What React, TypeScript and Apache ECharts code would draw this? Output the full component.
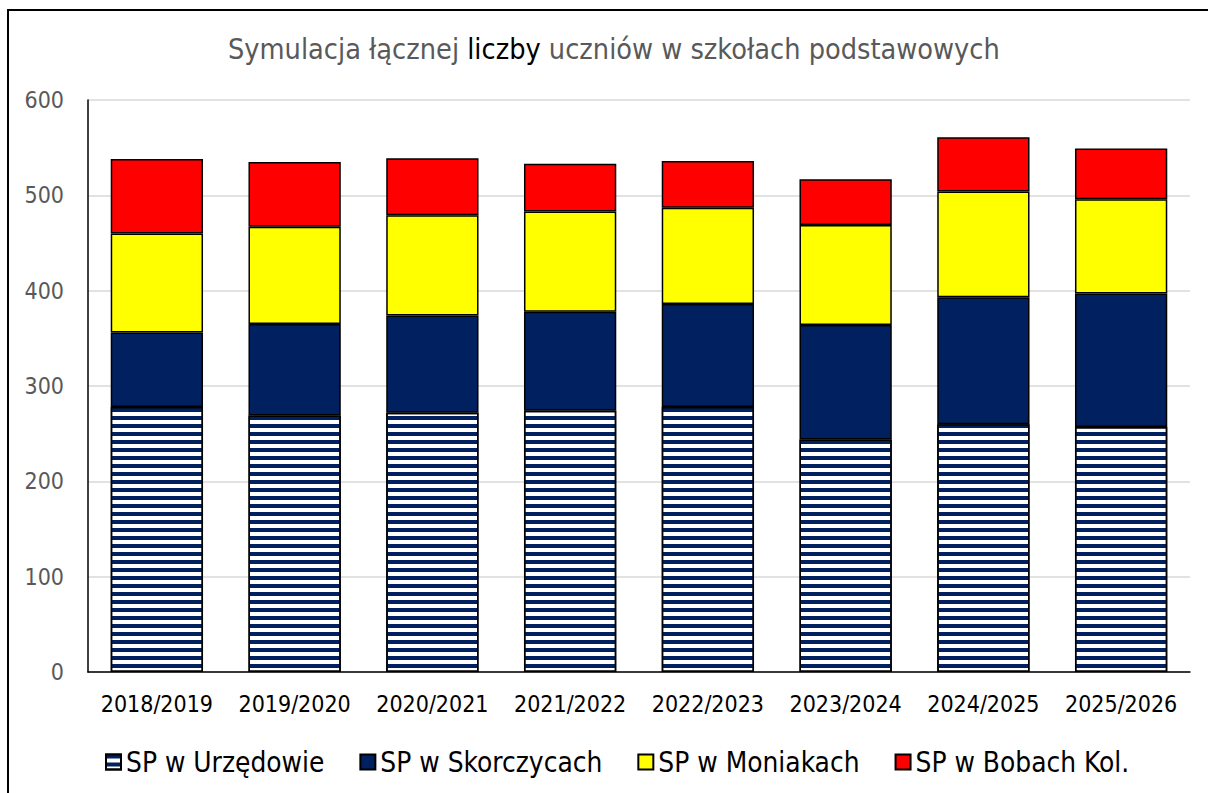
import React, { useEffect, useRef } from "react";
import * as echarts from "echarts";

const categories = ["2018/2019", "2019/2020", "2020/2021", "2021/2022", "2022/2023", "2023/2024", "2024/2025", "2025/2026"];
const seriesNames = ["SP w Urzędowie", "SP w Skorczycach", "SP w Moniakach", "SP w Bobach Kol."];
const urzedowie = [278, 269, 272, 274, 278, 244, 260, 257];
const skorczyce = [78, 96, 102, 104, 108, 120, 133, 140];
const moniaki = [104, 102, 105, 105, 101, 105, 111, 99];
const bobach = [78, 68, 60, 50, 49, 48, 57, 53];
const yTicks = [0, 100, 200, 300, 400, 500, 600];

const FONT = "'DejaVu Sans Condensed', 'Liberation Sans Narrow', 'DejaVu Sans', sans-serif";

export default function App() {
  const ref = useRef<HTMLDivElement>(null);
  useEffect(() => {
    if (!ref.current) return;
    const chart = echarts.init(ref.current, null, { renderer: "svg" });
    const border = { borderColor: "#000", borderWidth: 1.5 };
    chart.setOption({
      animation: false,
      backgroundColor: "#fff",
      textStyle: { fontFamily: FONT },
      title: {
        text: "Symulacja łącznej {b|liczby} uczniów w szkołach podstawowych",
        left: 223,
        top: 29,
        padding: 5,
        textStyle: {
          fontFamily: FONT,
          fontSize: 28.6,
          fontWeight: "normal",
          color: "#595959",
          rich: { b: { color: "#000", fontSize: 28.6, fontFamily: FONT } },
        },
      },
      graphic: [
        {
          type: "rect",
          shape: { x: 8, y: 10, width: 1300, height: 900 },
          style: { fill: "none", stroke: "#000", lineWidth: 2 },
          silent: true,
          z: 0,
        },
      ],
      legend: {
        top: 743,
        left: 100,
        padding: 5,
        icon: "rect",
        itemWidth: 15,
        itemHeight: 15,
        itemGap: 35,
        textStyle: { fontFamily: FONT, fontSize: 27.8, color: "#000" },
        data: seriesNames,
      },
      grid: { left: 88, right: 18, top: 100, bottom: 121, containLabel: false },
      xAxis: {
        type: "category",
        data: categories,
        axisLine: { show: true, lineStyle: { color: "#000", width: 1.5 } },
        axisTick: { show: false },
        axisLabel: { color: "#000", fontSize: 23, margin: 20, fontFamily: FONT, interval: 0 },
      },
      yAxis: {
        type: "value",
        min: yTicks[0],
        max: yTicks[yTicks.length - 1],
        interval: 100,
        axisLine: { show: true, lineStyle: { color: "#000", width: 1.5 } },
        axisTick: { show: false },
        splitLine: { lineStyle: { color: "#d9d9d9", width: 1.5 } },
        axisLabel: { color: "#595959", fontSize: 23, margin: 24, fontFamily: FONT },
      },
      series: [
        {
          name: seriesNames[0],
          type: "bar",
          stack: "s",
          barWidth: "67%",
          data: urzedowie,
          itemStyle: {
            color: "#ffffff",
            ...border,
            decal: {
              symbol: "rect",
              symbolSize: 1,
              dashArrayX: [1, 0],
              dashArrayY: [4, 4],
              rotation: 0,
              color: "#002060",
            },
          },
        },
        { name: seriesNames[1], type: "bar", stack: "s", data: skorczyce, itemStyle: { color: "#002060", ...border } },
        { name: seriesNames[2], type: "bar", stack: "s", data: moniaki, itemStyle: { color: "#FFFF00", ...border } },
        { name: seriesNames[3], type: "bar", stack: "s", data: bobach, itemStyle: { color: "#FF0000", ...border } },
      ],
    });
    return () => chart.dispose();
  }, []);
  return <div ref={ref} style={{ position: "fixed", left: 0, top: 0, width: 1208, height: 793 }} />;
}
